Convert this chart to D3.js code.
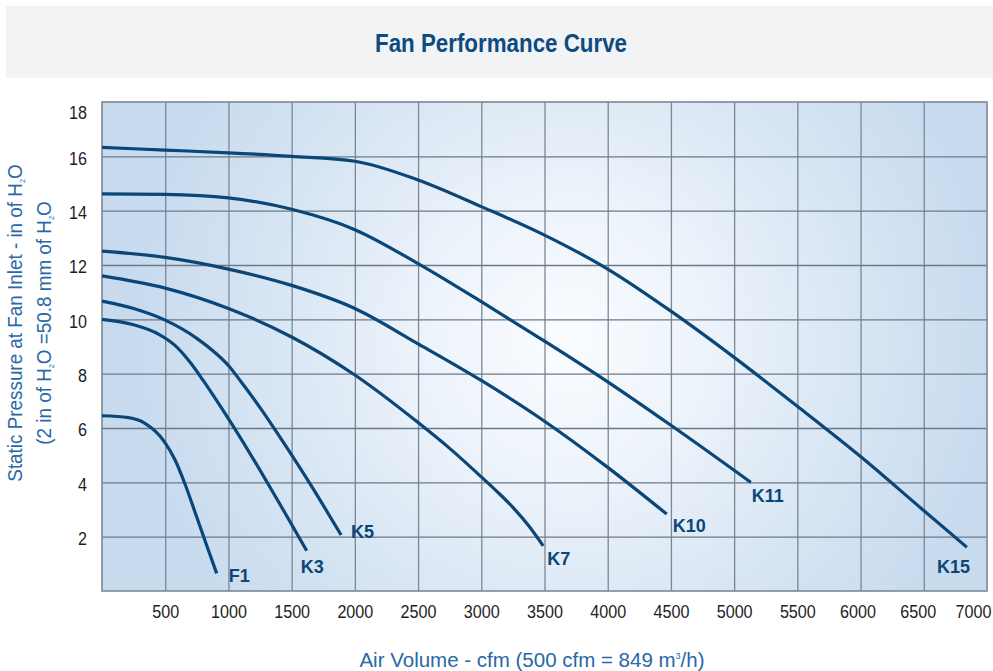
<!DOCTYPE html>
<html>
<head>
<meta charset="utf-8">
<script src="https://cdn.jsdelivr.net/npm/d3@7"></script>
<style>
  body { margin: 0; background: #fff; }
  svg { display: block; }
</style>
</head>
<body>
<svg id="chart" width="993" height="671"></svg>
<script>
// fan curves: [air volume cfm, static pressure in H2O]
const curveNames = ['F1', 'K3', 'K5', 'K7', 'K10', 'K11', 'K15']
const F1 = [[0, 6.45], [210, 6.38], [340, 6.17], [493, 5.5], [578, 4.82], [657, 3.93], [736, 2.9], [815, 1.85], [907, 0.65]]
const K3 = [[0, 10.0], [250, 9.8], [450, 9.45], [575, 9.05], [700, 8.4], [800, 7.75], [950, 6.7], [1100, 5.6], [1300, 4.05], [1619, 1.48]]
const K5 = [[0, 10.67], [250, 10.4], [500, 9.97], [750, 9.3], [900, 8.75], [1000, 8.3], [1100, 7.7], [1250, 6.75], [1422, 5.56], [1646, 3.94], [1891, 2.06]]
const K7 = [[0, 11.6], [500, 11.15], [1000, 10.4], [1500, 9.35], [2000, 7.95], [2500, 6.2], [2750, 5.25], [3000, 4.2], [3125, 3.66], [3250, 3.08], [3375, 2.4], [3490, 1.66]]
const K10 = [[0, 12.51], [500, 12.28], [1000, 11.85], [1500, 11.25], [2000, 10.4], [2500, 9.1], [3000, 7.75], [3500, 6.25], [4000, 4.55], [4467, 2.83]]
const K11 = [[0, 14.62], [500, 14.6], [1000, 14.47], [1500, 14.05], [2000, 13.3], [2500, 12.05], [3000, 10.65], [3500, 9.2], [4000, 7.7], [4500, 6.1], [5132, 4.0]]
const K15 = [[0, 16.33], [500, 16.23], [1000, 16.13], [1500, 16.0], [2000, 15.82], [2500, 15.13], [3000, 14.15], [3500, 13.1], [4000, 11.85], [4500, 10.3], [5000, 8.6], [5500, 6.8], [6000, 4.95], [6490, 3.0], [6841, 1.61]]
const xTickValues = [500, 1000, 1500, 2000, 2500, 3000, 3500, 4000, 4500, 5000, 5500, 6000, 6500, 7000]
const yTickValues = [2, 4, 6, 8, 10, 12, 14, 16, 18]

const seriesData = { F1, K3, K5, K7, K10, K11, K15 }

// label offset from the end of each curve, px
const labelOffset = {
  F1: [12, 9], K3: [-6, 22], K5: [10, 3], K7: [4, 19],
  K10: [6, 18], K11: [1, 20], K15: [-30, 26]
}
// the last x labels are pulled in to stay inside the frame
const xLabelNudge = { 6000: -3, 6500: -6, 7000: -14 }

const width = 993, height = 671
const marginLeft = 102, marginRight = 6, marginTop = 102, marginBottom = 80
const curveColor = '#0b4678'
const labelBlue = '#2a68a6'
const sans = '"Liberation Sans", Arial, Helvetica, sans-serif'
const narrowScale = 0.85

const svg = d3.select('#chart')

const x = d3.scaleLinear().domain([0, 7000]).range([marginLeft, width - marginRight])
const y = d3.scaleLinear().domain([0, 18]).range([height - marginBottom, marginTop])

// title band
svg.append('rect')
  .attr('x', 6).attr('y', 6).attr('width', width - 6).attr('height', 72)
  .attr('fill', '#f2f3f5')
svg.append('text')
  .attr('x', 501).attr('y', 52)
  .attr('text-anchor', 'middle')
  .attr('textLength', 252).attr('lengthAdjust', 'spacingAndGlyphs')
  .style('font-family', sans).style('font-weight', 'bold').style('font-size', '25px')
  .attr('fill', '#0d4a80')
  .text('Fan Performance Curve')

// plot background
const defs = svg.append('defs')
const grad = defs.append('radialGradient')
  .attr('id', 'bg').attr('gradientUnits', 'userSpaceOnUse')
  .attr('cx', 565).attr('cy', 340).attr('r', 440)
grad.selectAll('stop')
  .data([[0, '#fafcff'], [0.3, '#eef4fb'], [0.65, '#d9e6f4'], [1, '#c7daee']])
  .enter().append('stop')
  .attr('offset', d => d[0]).attr('stop-color', d => d[1])

const plotH = y(0) - y(18), plotW = x(7000) - x(0)

svg.append('rect')
  .attr('x', x(0)).attr('y', y(18))
  .attr('width', plotW).attr('height', plotH)
  .attr('fill', 'url(#bg)')

// grid
svg.append('g')
  .attr('transform', `translate(0,${y(0)})`)
  .call(d3.axisBottom(x).tickValues(xTickValues.slice(0, -1)).tickSize(-plotH).tickFormat(''))
  .call(g => g.select('.domain').remove())
  .call(g => g.selectAll('.tick line').attr('stroke', '#7a8896').attr('stroke-width', 1.3))
svg.append('g')
  .attr('transform', `translate(${x(0)},0)`)
  .call(d3.axisLeft(y).tickValues(yTickValues.slice(0, -1)).tickSize(-plotW).tickFormat(''))
  .call(g => g.select('.domain').remove())
  .call(g => g.selectAll('.tick line').attr('stroke', '#6c7a88').attr('stroke-width', 1.3))

svg.append('rect')
  .attr('x', x(0)).attr('y', y(18))
  .attr('width', plotW).attr('height', plotH)
  .attr('fill', 'none').attr('stroke', '#7d8894').attr('stroke-width', 1.6)

// tick labels (narrowed to look like a condensed face)
svg.append('g')
  .attr('transform', `translate(0,${y(0)})`)
  .call(d3.axisBottom(x).tickValues(xTickValues).tickSize(0).tickPadding(14).tickFormat(d3.format('d')))
  .call(g => g.select('.domain').remove())
  .call(g => g.selectAll('text').attr('fill', '#1e1e1e')
    .style('font-family', sans).style('font-size', '19px')
    .attr('x', d => (xLabelNudge[d] || 0) / narrowScale)
    .attr('transform', `scale(${narrowScale},1)`))

svg.append('g')
  .attr('transform', `translate(${x(0)},0)`)
  .call(d3.axisLeft(y).tickValues(yTickValues).tickSize(0).tickPadding(15))
  .call(g => g.select('.domain').remove())
  .call(g => g.selectAll('text').attr('fill', '#1e1e1e')
    .style('font-family', sans).style('font-size', '19px')
    .attr('x', -15 / narrowScale)
    .attr('transform', `scale(${narrowScale},1)`)
    .attr('dy', d => d === 18 ? '0.85em' : '0.42em'))

// curves
const line = d3.line()
  .x(d => x(d[0]))
  .y(d => y(d[1]))
  .curve(d3.curveMonotoneX)

svg.append('g').selectAll('path')
  .data(curveNames)
  .enter().append('path')
  .attr('d', n => line(seriesData[n]))
  .attr('fill', 'none')
  .attr('stroke', curveColor)
  .attr('stroke-width', 3.2)

svg.append('g').selectAll('text')
  .data(curveNames)
  .enter().append('text')
  .attr('x', n => x(seriesData[n][seriesData[n].length - 1][0]) + labelOffset[n][0])
  .attr('y', n => y(seriesData[n][seriesData[n].length - 1][1]) + labelOffset[n][1])
  .attr('fill', curveColor)
  .style('font-family', sans)
  .style('font-weight', 'bold').style('font-size', '18px')
  .text(n => n)

// axis titles
const xTitle = svg.append('text')
  .attr('x', 532).attr('y', 667)
  .attr('text-anchor', 'middle')
  .attr('fill', labelBlue)
  .style('font-family', sans).style('font-size', '20.5px')
xTitle.append('tspan').text('Air Volume - cfm (500 cfm = 849 m')
xTitle.append('tspan').attr('dy', -8).style('font-size', '9px').text('3')
xTitle.append('tspan').attr('dy', 8).text('/h)')

const yTitle = svg.append('g')
  .attr('transform', 'translate(0,323) rotate(-90) scale(0.92,1)')
  .attr('fill', labelBlue)
  .style('font-family', sans).style('font-size', '20.5px')
  .attr('text-anchor', 'middle')

const yLine1 = yTitle.append('text').attr('x', 0).attr('y', 22)
yLine1.append('tspan').text('Static Pressure at Fan Inlet - in of H')
yLine1.append('tspan').attr('dy', 3).style('font-size', '8px').text('2')
yLine1.append('tspan').attr('dy', -3).text('O')

const yLine2 = yTitle.append('text').attr('x', 0).attr('y', 51)
yLine2.append('tspan').text('(2 in of H')
yLine2.append('tspan').attr('dy', 3).style('font-size', '8px').text('2')
yLine2.append('tspan').attr('dy', -3).text('O =50.8 mm of H')
yLine2.append('tspan').attr('dy', 3).style('font-size', '8px').text('2')
yLine2.append('tspan').attr('dy', -3).text('O')
</script>
</body>
</html>
